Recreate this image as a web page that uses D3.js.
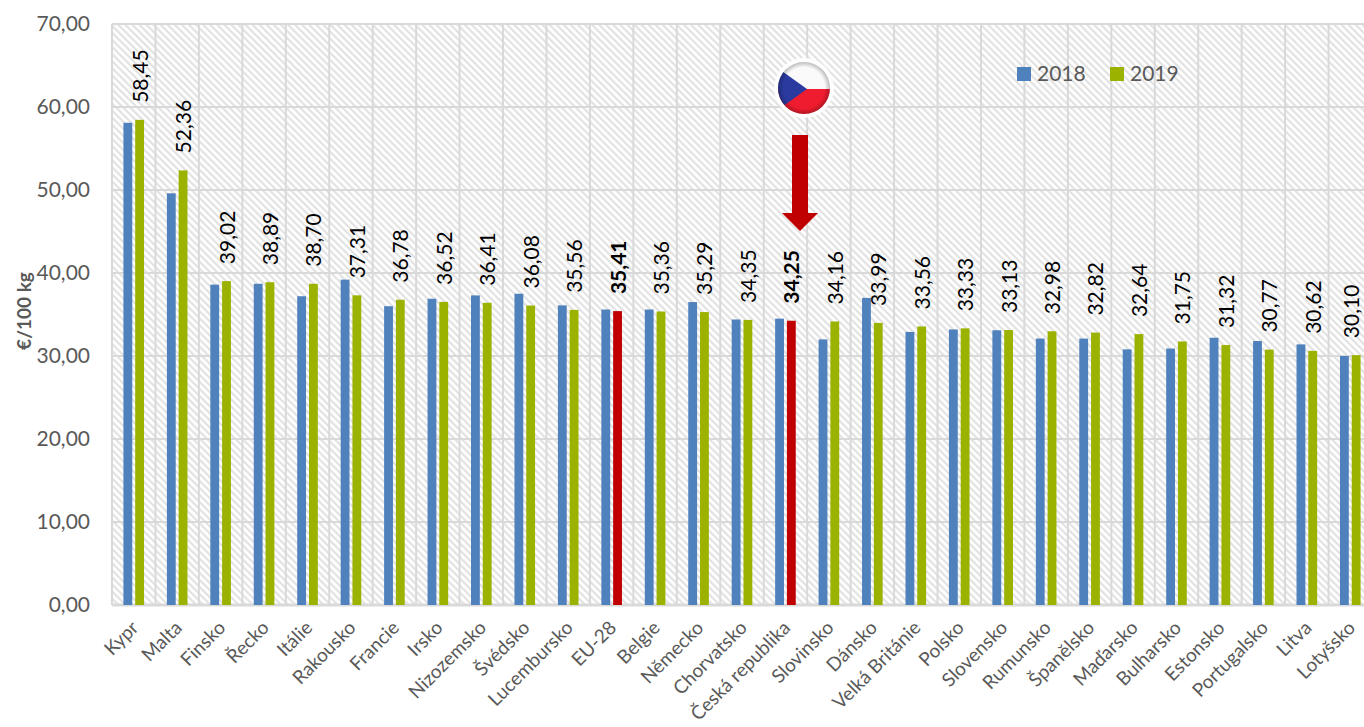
<!DOCTYPE html>
<html>
<head>
<meta charset="utf-8">
<title>Ceny €/100 kg</title>
<script src="https://d3js.org/d3.v7.min.js"></script>
<style>
    html, body { margin: 0; padding: 0; background: #fff; overflow: hidden; }
    text { font-family: Lato, "Open Sans", sans-serif; }
</style>
</head>
<body>
<div id="graph"></div>
<script>
    categories = ["Kypr", "Malta", "Finsko", "Řecko", "Itálie", "Rakousko", "Francie", "Irsko", "Nizozemsko", "Švédsko",
        "Lucembursko", "EU-28", "Belgie", "Německo", "Chorvatsko", "Česká republika", "Slovinsko", "Dánsko",
        "Velká Británie", "Polsko", "Slovensko", "Rumunsko", "Španělsko", "Maďarsko", "Bulharsko", "Estonsko",
        "Portugalsko", "Litva", "Lotyšsko"];
    values2018 = [58.1, 49.6, 38.6, 38.7, 37.2, 39.2, 36.0, 36.9, 37.3, 37.5, 36.1, 35.6, 35.6, 36.5, 34.4, 34.5, 32.0, 37.0,
        32.9, 33.2, 33.1, 32.1, 32.1, 30.8, 30.9, 32.2, 31.8, 31.4, 30.0];
    values2019 = [58.45, 52.36, 39.02, 38.89, 38.70, 37.31, 36.78, 36.52, 36.41, 36.08, 35.56, 35.41, 35.36, 35.29, 34.35, 34.25,
        34.16, 33.99, 33.56, 33.33, 33.13, 32.98, 32.82, 32.64, 31.75, 31.32, 30.77, 30.62, 30.10];
    highlighted = ["EU-28", "Česká republika"];
    series = ["2018", "2019"];
    yTicks = [0, 10, 20, 30, 40, 50, 60, 70];

    width = 1364;
    height = 727;
    margin = { top: 24, right: -8, bottom: 122, left: 112 };
    colors = { "2018": "#4f81bd", "2019": "#9bb300", red: "#c00000" };
    gridColor = "#d9d9d9";
    textColor = "#595959";

    comma = d3.formatLocale({ decimal: ",", thousands: " ", grouping: [3], currency: ["", ""] }).format(".2f");

    svg = d3.select("#graph").append("svg")
        .attr("width", width)
        .attr("height", height)
        .style("display", "block");

    defs = svg.append("defs");

    hatch = defs.append("pattern")
        .attr("id", "hatch")
        .attr("width", 5)
        .attr("height", 5)
        .attr("patternUnits", "userSpaceOnUse")
        .attr("patternTransform", "rotate(-45)");
    hatch.append("rect").attr("width", 5).attr("height", 5).attr("fill", "#fff");
    hatch.append("rect").attr("width", 2.2).attr("height", 5).attr("fill", "#e2e2e2");

    x = d3.scaleBand()
        .domain(categories)
        .range([margin.left, width - margin.right]);
    xInner = d3.scaleBand()
        .domain(series)
        .range([0, x.bandwidth()])
        .paddingInner(0.25)
        .paddingOuter(0.97);
    y = d3.scaleLinear()
        .domain([0, 70])
        .range([height - margin.bottom, margin.top]);

    svg.append("rect")
        .attr("x", margin.left)
        .attr("y", margin.top)
        .attr("width", width - margin.left - margin.right)
        .attr("height", y(0) - margin.top)
        .attr("fill", "url(#hatch)");

    // grid
    svg.append("g")
        .selectAll("line.h")
        .data(yTicks)
        .join("line")
            .attr("x1", margin.left)
            .attr("x2", width - margin.right)
            .attr("y1", d => y(d))
            .attr("y2", d => y(d))
            .attr("stroke", gridColor)
            .attr("stroke-width", d => d == 0 ? 3 : 2);
    svg.append("g")
        .selectAll("line")
        .data(categories)
        .join("line")
            .attr("x1", d => x(d))
            .attr("x2", d => x(d))
            .attr("y1", y(70))
            .attr("y2", y(0))
            .attr("stroke", gridColor)
            .attr("stroke-width", 2);

    // y axis
    yAxis = svg.append("g")
        .attr("transform", `translate(${margin.left},0)`)
        .call(d3.axisLeft(y).tickValues(yTicks).tickFormat(comma).tickSize(0).tickPadding(22));
    yAxis.select(".domain").remove();
    yAxis.selectAll("text")
        .attr("fill", textColor)
        .style("font-size", "21px");

    // x axis
    xAxis = svg.append("g")
        .attr("transform", `translate(0,${y(0)})`)
        .call(d3.axisBottom(x).tickSize(0));
    xAxis.select(".domain").remove();
    xAxis.selectAll("text")
        .attr("fill", textColor)
        .style("font-size", "19px")
        .attr("text-anchor", "end")
        .attr("dx", 0)
        .attr("dy", 0)
        .attr("y", 0)
        .attr("transform", "translate(6,24) rotate(-45)");

    // bars
    svg.append("g")
        .selectAll("rect")
        .data(categories)
        .join("rect")
            .attr("x", d => x(d) + xInner("2018"))
            .attr("width", xInner.bandwidth())
            .attr("y", (d, i) => y(values2018[i]))
            .attr("height", (d, i) => y(0) - y(values2018[i]))
            .attr("fill", colors["2018"]);
    svg.append("g")
        .selectAll("rect")
        .data(categories)
        .join("rect")
            .attr("x", d => x(d) + xInner("2019"))
            .attr("width", xInner.bandwidth())
            .attr("y", (d, i) => y(values2019[i]))
            .attr("height", (d, i) => y(0) - y(values2019[i]))
            .attr("fill", d => highlighted.includes(d) ? colors.red : colors["2019"]);

    // value labels, the last one is pulled back so it stays on the page
    svg.append("g")
        .selectAll("text")
        .data(categories)
        .join("text")
            .attr("transform", (d, i) => `translate(${Math.min(x(d) + xInner("2019") + xInner.bandwidth() / 2 + 8, width - 5)},${y(values2019[i]) - 17}) rotate(-90)`)
            .attr("fill", "#000")
            .style("font-size", "21px")
            .style("font-weight", d => highlighted.includes(d) ? "700" : "400")
            .text((d, i) => comma(values2019[i]));

    // y title
    svg.append("text")
        .attr("transform", "translate(31,311) rotate(-90)")
        .attr("text-anchor", "middle")
        .attr("fill", textColor)
        .style("font-size", "19px")
        .style("font-weight", "700")
        .text("€/100 kg");

    // legend
    legend = svg.append("g")
        .selectAll("g")
        .data(series)
        .join("g")
            .attr("transform", (d, i) => `translate(${1017 + i * 93},67)`);
    legend.append("rect")
        .attr("width", 14)
        .attr("height", 14)
        .attr("fill", d => colors[d]);
    legend.append("text")
        .attr("x", 20)
        .attr("y", 14)
        .attr("fill", textColor)
        .style("font-size", "21px")
        .text(d => d);

    // arrow
    svg.append("path")
        .attr("d", "M792,135H808V213H818L800,231L782,213H792Z")
        .attr("fill", colors.red);

    // flag
    flagGlow = defs.append("radialGradient").attr("id", "flagShade");
    flagGlow.append("stop").attr("offset", "80%").attr("stop-color", "#000").attr("stop-opacity", 0);
    flagGlow.append("stop").attr("offset", "100%").attr("stop-color", "#000").attr("stop-opacity", 0.25);
    defs.append("clipPath").attr("id", "flagClip")
        .append("circle").attr("cx", 804).attr("cy", 88).attr("r", 26);
    svg.append("circle").attr("cx", 804).attr("cy", 88).attr("r", 30).attr("fill", "#fff").attr("opacity", 0.9);
    flag = svg.append("g").attr("clip-path", "url(#flagClip)");
    flag.append("rect").attr("x", 775).attr("y", 60).attr("width", 60).attr("height", 29).attr("fill", "#fafafa");
    flag.append("rect").attr("x", 775).attr("y", 89).attr("width", 60).attr("height", 28).attr("fill", "#ee1c2e");
    flag.append("path").attr("d", "M775,66L807,89L775,112Z").attr("fill", "#2b3a9e");
    svg.append("circle").attr("cx", 804).attr("cy", 88).attr("r", 26).attr("fill", "url(#flagShade)");
</script>
</body>
</html>
